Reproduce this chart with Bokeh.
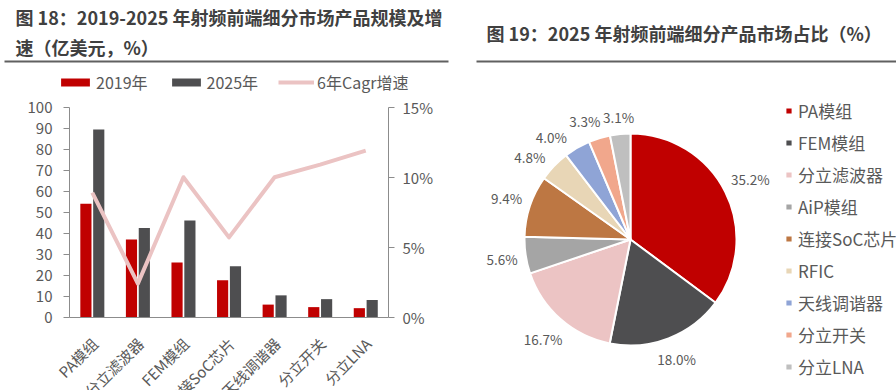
import numpy as np
from math import pi
from bokeh.plotting import figure
from bokeh.models import (ColumnDataSource, Range1d, LinearAxis, FixedTicker, PrintfTickFormatter,
                          Label, LabelSet, BoxAnnotation, FactorRange)
from bokeh.transform import dodge
from bokeh.layouts import row
from bokeh.embed import file_html
from bokeh.resources import INLINE
from bokeh.core.properties import value

# ---------------- data ----------------
categories = ["PA模组", "分立滤波器", "FEM模组", "连接SoC芯片", "天线调谐器", "分立开关", "分立LNA"]
size_2019 = [54.0, 37.0, 26.0, 17.6, 6.0, 4.8, 4.3]
size_2025 = [89.4, 42.5, 46.0, 24.3, 10.4, 8.6, 8.2]
cagr_pct = [8.9, 2.4, 10.0, 5.7, 10.0, 10.9, 11.9]
left_ticks = [0, 10, 20, 30, 40, 50, 60, 70, 80, 90, 100]
right_ticks = [0, 5, 10, 15]

pie_names = ["PA模组", "FEM模组", "分立滤波器", "AiP模组", "连接SoC芯片", "RFIC", "天线调谐器", "分立开关", "分立LNA"]
pie_share = [35.2, 18.0, 16.7, 5.6, 9.4, 4.8, 4.0, 3.3, 3.1]
pie_colors = ["#c00000", "#4e4e50", "#ecc4c4", "#a5a5a5", "#bd7743", "#e8d6b6", "#8fa4d6", "#f1a78c", "#bfbfbf"]

title_left_1 = "图 18：2019-2025 年射频前端细分市场产品规模及增"
title_left_2 = "速（亿美元，%）"
title_right = "图 19：2025 年射频前端细分产品市场占比（%）"

FONT = "Noto Sans CJK SC"
TXT = "#595959"
AX = "#8c8c8c"
TITLE_C = "#404040"
SEP_C = "#606060"

# ---------------- layout constants (pixels inside each figure) ----------------
H = 390
W1, W2 = 457, 439
PLOT_L, PLOT_R = 69, 388          # bar plot area, x from figure left
PLOT_T, PLOT_B = 106.7, 316.7     # bar plot area, y from figure top

# ---------------- left: bar + line ----------------
n = len(categories)
px_per_cat = (PLOT_R - PLOT_L) / n
ymax, pmax = left_ticks[-1], right_ticks[-1]
ys = (PLOT_B - PLOT_T) / ymax
ps = (PLOT_B - PLOT_T) / pmax

x_range = FactorRange(*categories, range_padding=PLOT_L / px_per_cat, range_padding_units="absolute")
y_range = Range1d(-(H - PLOT_B) / ys, ymax + PLOT_T / ys)
p1 = figure(width=W1, height=H, x_range=x_range, y_range=y_range,
            output_backend="svg", toolbar_location=None, min_border=0)
p1.extra_y_ranges = {"pct": Range1d(-(H - PLOT_B) / ps, pmax + PLOT_T / ps)}
p1.outline_line_color = None
p1.xgrid.visible = False
p1.ygrid.visible = False

src = ColumnDataSource(dict(cat=categories, v19=size_2019, v25=size_2025, cagr=cagr_pct))
r19 = p1.vbar(x=dodge("cat", -0.14, range=p1.x_range), top="v19", width=0.245, source=src,
              fill_color="#c00000", line_color=None, legend_label="2019年")
r25 = p1.vbar(x=dodge("cat", 0.142, range=p1.x_range), top="v25", width=0.245, source=src,
              fill_color="#4e4e50", line_color=None, legend_label="2025年")
rl = p1.line(x="cat", y="cagr", source=src, y_range_name="pct", line_color="#ebc3c3",
             line_width=4, line_join="round", legend_label="6年Cagr增速")

ly = p1.yaxis[0]
ly.ticker = FixedTicker(ticks=left_ticks)
ly.bounds = (0, ymax)
ly.fixed_location = 0
ry = LinearAxis(y_range_name="pct", ticker=FixedTicker(ticks=right_ticks),
                formatter=PrintfTickFormatter(format="%d%%"), bounds=(0, pmax), fixed_location=n)
p1.add_layout(ry, "right")
for ax in (ly, ry):
    ax.axis_line_color = AX
    ax.major_tick_line_color = AX
    ax.major_tick_out = 6
    ax.major_tick_in = 0
    ax.minor_tick_line_color = None
    ax.major_label_text_font = FONT
    ax.major_label_text_font_size = "15px"
    ax.major_label_text_color = TXT
ly.major_label_standoff = 11
ry.major_label_standoff = 8

xa = p1.xaxis[0]
xa.fixed_location = 0
xa.bounds = (0, n)
xa.axis_line_color = AX
xa.major_tick_line_color = None
xa.minor_tick_line_color = None
xa.major_label_text_font_size = "0px"
xa.major_label_text_color = None
xa.major_label_standoff = 0

# category labels, rotated 45 degrees, hanging from the x axis at each category
p1.add_layout(LabelSet(x="cat", y=0, text="cat", source=src, angle=pi / 4,
                       text_align="right", text_baseline="top", x_offset=-5, y_offset=-16,
                       text_font=value(FONT), text_font_size="15px", text_color=TXT))

# titles and separator (screen units, y measured up from the figure bottom)
for txt, ytop in ((title_left_1, 16.7), (title_left_2, 46.5)):
    p1.add_layout(Label(x=15, y=H - ytop, x_units="screen", y_units="screen", text=txt,
                        text_baseline="middle", text_font=FONT, text_font_style="bold",
                        text_font_size="18px", text_color=TITLE_C))
p1.add_layout(BoxAnnotation(left=4, right=448, bottom=H - 62, top=H - 60,
                            left_units="screen", right_units="screen",
                            bottom_units="screen", top_units="screen",
                            fill_color=SEP_C, fill_alpha=1, line_color=None))

leg = p1.legend[0]
leg.orientation = "horizontal"
leg.location = (57, H - 82 - 12)
leg.glyph_width = 36
leg.glyph_height = 10
leg.label_standoff = 3
leg.spacing = 20
leg.padding = 0
leg.margin = 0
leg.border_line_color = None
leg.background_fill_alpha = 0
leg.label_text_font = FONT
leg.label_text_font_size = "16px"
leg.label_text_color = TXT
leg.label_height = 24

# ---------------- right: pie ----------------
p2 = figure(width=W2, height=H, x_range=Range1d(0, W2), y_range=Range1d(0, H),
            output_backend="svg", toolbar_location=None, min_border=0,
            x_axis_location=None, y_axis_location=None)
p2.outline_line_color = None
p2.xgrid.visible = False
p2.ygrid.visible = False

cx, cy, R = 173, H - 239, 106
GAP, LH = 8, 16
share = np.array(pie_share)
frac = share / share.sum()
cum = np.concatenate([[0], np.cumsum(frac)])
start = pi / 2 - 2 * pi * cum[:-1]
end = pi / 2 - 2 * pi * cum[1:]
mid = 2 * pi * (cum[:-1] + frac / 2)
texts = [f"{v:.1f}%" for v in pie_share]
wlab = [7.4 * len(t) for t in texts]


def label_pos(theta, w):
    sx, sy = np.sin(theta), np.cos(theta)
    d = R + GAP + w / 2 * abs(sx) + LH / 2 * abs(sy)
    return cx + d * sx, cy + d * sy


# place labels outside the pie; walk back from the last slice and nudge
# crowded labels anticlockwise until they no longer overlap their neighbour
N = len(pie_share)
pos = [None] * N
for i in reversed(range(N)):
    th = mid[i]
    x, y = label_pos(th, wlab[i])
    if i < N - 1:
        xn, yn = pos[i + 1]
        while (abs(x - xn) < (wlab[i] + wlab[i + 1]) / 2 + 3 and abs(y - yn) < LH + 3
               and th > mid[i] - 0.4):
            th -= np.radians(0.5)
            x, y = label_pos(th, wlab[i])
    pos[i] = (x, y)
lx = [p[0] for p in pos]
lyy = [p[1] for p in pos]

src2 = ColumnDataSource(dict(name=pie_names, start=start, end=end, color=pie_colors,
                             lx=lx, ly=lyy, txt=texts))
p2.wedge(x=cx, y=cy, radius=R, start_angle="start", end_angle="end", direction="clock",
         fill_color="color", line_color="white", line_width=2, source=src2, legend_field="name")
p2.text(x="lx", y="ly", text="txt", source=src2, text_align="center", text_baseline="middle",
        text_font=value(FONT), text_font_size="13.5px", text_color=TXT)

p2.add_layout(Label(x=29, y=H - 32.5, x_units="screen", y_units="screen", text=title_right,
                    text_baseline="middle", text_font=FONT, text_font_style="bold",
                    text_font_size="18px", text_color=TITLE_C))
p2.add_layout(BoxAnnotation(left=19, right=W2, bottom=H - 62, top=H - 60,
                            left_units="screen", right_units="screen",
                            bottom_units="screen", top_units="screen",
                            fill_color=SEP_C, fill_alpha=1, line_color=None))

leg2 = p2.legend[0]
leg2.location = (327, H - 366.7 - 12.5)
leg2.glyph_width = 9
leg2.glyph_height = 9
leg2.label_standoff = 5
leg2.spacing = 7
leg2.padding = 0
leg2.margin = 0
leg2.border_line_color = None
leg2.background_fill_alpha = 0
leg2.label_text_font = FONT
leg2.label_text_font_size = "17px"
leg2.label_text_color = TXT
leg2.label_height = 25

layout = row(p1, p2)
open("out.html", "w").write(file_html(layout, INLINE))
